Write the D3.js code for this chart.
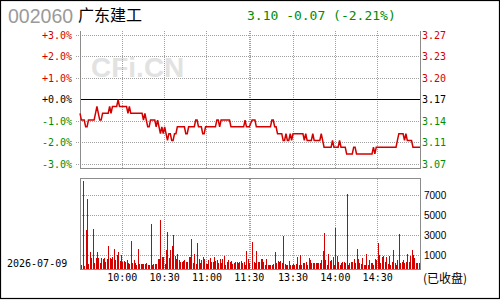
<!DOCTYPE html>
<html>
<head>
<meta charset="utf-8">
<script src="https://cdn.jsdelivr.net/npm/d3@7"></script>
<style>
  body { margin: 0; background: #fff; }
  svg { display: block; }
</style>
</head>
<body>
<div id="chart"></div>
<script>
// header info
const stockCode = '002060';
const stockName = '广东建工';
const quoteText = '3.10 -0.07 (-2.21%)';
const tradeDate = '2026-07-09';
const statusText = '(已收盘)';
const prevClose = 3.17;

// axes
const pctTicks = [3, 2, 1, 0, -1, -2, -3];
const pctLabels = ['+3.0%', '+2.0%', '+1.0%', '+0.0%', '-1.0%', '-2.0%', '-3.0%'];
const priceLabels = ['3.27', '3.23', '3.20', '3.17', '3.14', '3.11', '3.07'];

// time slots: 0 = 9:30, 120 = 11:30, 121 = 13:00, 241 = 15:00
const gridSlots = [30, 60, 90, 120, 121, 151, 181, 211];
const timeSlots = [30, 60, 90, 120, 151, 181, 211];
const timeLabels = ['10:00', '10:30', '11:00', '11:30', '13:30', '14:00', '14:30'];

const volGrid = [1350, 3300, 5250, 7150];
const volLabels = ['1000', '3000', '5000', '7000'];

// one price per minute, 9:30 .. 11:30 then 13:01 .. 15:00
const prices = [
  3.15,3.14,3.14,3.14,3.13,3.13,3.14,3.14,3.14,3.14,
  3.14,3.15,3.16,3.15,3.14,3.14,3.15,3.15,3.15,3.15,
  3.15,3.16,3.15,3.16,3.16,3.16,3.16,3.17,3.16,3.16,
  3.16,3.16,3.16,3.16,3.15,3.16,3.15,3.15,3.15,3.15,
  3.15,3.15,3.15,3.15,3.15,3.14,3.15,3.14,3.13,3.13,
  3.14,3.14,3.14,3.14,3.13,3.14,3.13,3.12,3.13,3.12,
  3.13,3.12,3.11,3.12,3.12,3.11,3.11,3.12,3.12,3.13,
  3.13,3.13,3.13,3.13,3.13,3.12,3.12,3.13,3.13,3.13,
  3.13,3.13,3.14,3.14,3.13,3.13,3.13,3.12,3.12,3.13,
  3.13,3.13,3.13,3.13,3.13,3.13,3.13,3.14,3.14,3.13,
  3.14,3.14,3.14,3.14,3.14,3.14,3.14,3.13,3.13,3.13,
  3.13,3.13,3.13,3.13,3.13,3.13,3.13,3.14,3.13,3.13,
  3.13,3.14,3.14,3.14,3.13,3.13,3.13,3.13,3.13,3.13,
  3.13,3.13,3.13,3.13,3.13,3.14,3.14,3.13,3.13,3.12,
  3.12,3.12,3.12,3.11,3.11,3.12,3.11,3.11,3.12,3.11,
  3.12,3.12,3.12,3.12,3.12,3.12,3.12,3.12,3.11,3.12,
  3.11,3.11,3.11,3.11,3.12,3.11,3.11,3.11,3.11,3.11,
  3.12,3.11,3.10,3.10,3.10,3.10,3.10,3.10,3.11,3.10,
  3.10,3.10,3.10,3.11,3.10,3.10,3.10,3.10,3.09,3.09,
  3.09,3.09,3.09,3.10,3.10,3.09,3.09,3.09,3.09,3.09,
  3.09,3.09,3.09,3.09,3.09,3.09,3.09,3.10,3.09,3.10,
  3.10,3.10,3.10,3.10,3.10,3.10,3.10,3.10,3.10,3.10,
  3.10,3.10,3.10,3.10,3.11,3.12,3.12,3.12,3.12,3.11,
  3.12,3.11,3.11,3.11,3.11,3.10,3.10,3.10,3.10,3.10,
  3.10
];

const volumes = [
  1000,450,8500,300,3810,6820,500,1710,1100,3910,
  650,1100,1710,1130,580,1100,1030,1100,740,1000,
  2260,1100,970,1230,1970,900,1420,1710,840,1390,
  740,840,680,900,650,520,2750,650,870,650,
  420,1970,520,520,520,520,520,650,450,480,
  4430,450,520,520,500,1000,1000,4780,1230,1230,
  520,1870,3650,1100,1870,2290,3330,1290,1030,1490,
  900,740,740,780,900,740,740,1230,1230,2940,
  650,1490,500,2520,1000,580,900,1160,970,520,
  550,900,1130,680,740,1160,810,900,610,1000,
  650,970,1320,450,710,900,740,840,520,580,
  710,710,580,710,840,580,710,450,1810,1000,
  580,2680,740,580,1810,680,740,970,1000,740,
  420,1000,420,420,420,420,520,1710,650,840,
  710,810,580,3260,520,480,420,840,390,420,
  520,420,520,1230,420,1360,420,650,580,740,
  420,1130,900,650,650,650,650,650,650,650,
  900,1810,3550,900,420,1490,840,900,1160,420,
  4000,1290,710,420,580,680,710,650,7300,420,
  580,710,710,970,580,1970,970,580,520,1130,
  420,420,1490,420,900,580,650,420,1030,900,
  2580,1390,650,1230,1320,710,1230,520,1290,420,
  740,1870,580,420,900,3420,580,710,900,650,
  740,1490,740,1290,1870,1390,1070,650,600,600,
  2360
];

const RED = '#d40000', GREEN = '#008c00', GRID = '#a0a0a0', FRAME = '#8c8c8c';
const MONO = '"DejaVu Sans Mono", monospace';
const box = { left: 80, right: 420, priceTop: 31, priceBottom: 168.5, volTop: 178.5, volBottom: 269.5 };

const svg = d3.select('#chart').append('svg')
    .attr('width', 500)
    .attr('height', 300);

const slotOf = m => (m <= 120 ? m : m + 1);
const toPct = p => (p - prevClose) / prevClose * 100;

const x = d3.scaleLinear().domain([0, 241]).range([box.left, box.right]);
const yPct = d3.scaleLinear().domain([-3.2, 3.2]).range([box.priceBottom, box.priceTop]);
const yVol = d3.scaleLinear().domain([0, 8770]).range([box.volBottom, box.volTop]);

// outer frame
svg.append('rect')
    .attr('x', 0.5).attr('y', 0.5)
    .attr('width', 499).attr('height', 298)
    .attr('fill', '#fff')
    .attr('stroke', '#000')
    .attr('stroke-width', 1.2);

// watermark
svg.append('text')
    .attr('x', 91).attr('y', 77)
    .style('font-family', '"Liberation Sans", Arial, sans-serif')
    .style('font-weight', 'bold')
    .style('font-size', '28px')
    .attr('fill', '#e2e2e2')
    .text('CFi.CN');

// header
svg.append('text')
    .attr('x', 8).attr('y', 23)
    .style('font-family', '"Liberation Sans", Arial, sans-serif')
    .style('font-size', '19.5px')
    .attr('fill', '#9a9a9a')
    .text(stockCode);

svg.append('text')
    .attr('x', 78).attr('y', 20.5)
    .style('font-family', '"Noto Sans CJK SC", sans-serif')
    .style('font-size', '16px')
    .attr('fill', '#000')
    .text(stockName);

svg.append('text')
    .attr('x', 247).attr('y', 20)
    .style('font-family', MONO)
    .style('font-size', '13px')
    .attr('fill', GREEN)
    .text(quoteText);

const g = svg.append('g').attr('shape-rendering', 'crispEdges');

// price panel grid
g.selectAll('.hgrid')
    .data(pctTicks.filter(d => d !== 0))
    .enter().append('line')
    .attr('x1', box.left - 4).attr('x2', box.right)
    .attr('y1', d => yPct(d)).attr('y2', d => yPct(d))
    .attr('stroke', GRID).attr('stroke-dasharray', '1,1');

g.selectAll('.vgrid')
    .data(gridSlots)
    .enter().append('line')
    .attr('x1', d => x(d)).attr('x2', d => x(d))
    .attr('y1', box.priceTop).attr('y2', box.priceBottom)
    .attr('stroke', GRID).attr('stroke-dasharray', '1,1');

// volume panel grid
g.selectAll('.vhgrid')
    .data(volGrid)
    .enter().append('line')
    .attr('x1', box.left).attr('x2', box.right)
    .attr('y1', d => yVol(d)).attr('y2', d => yVol(d))
    .attr('stroke', GRID).attr('stroke-dasharray', '1,1');

g.selectAll('.vvgrid')
    .data(gridSlots)
    .enter().append('line')
    .attr('x1', d => x(d)).attr('x2', d => x(d))
    .attr('y1', box.volTop).attr('y2', box.volBottom)
    .attr('stroke', GRID).attr('stroke-dasharray', '1,1');

// previous close line
g.append('line')
    .attr('x1', box.left).attr('x2', box.right)
    .attr('y1', yPct(0)).attr('y2', yPct(0))
    .attr('stroke', '#000').attr('stroke-width', 1.3);

// volume bars
g.selectAll('.bar')
    .data(volumes)
    .enter().append('rect')
    .attr('x', (d, i) => x(slotOf(i)))
    .attr('y', d => yVol(d))
    .attr('width', 1)
    .attr('height', d => yVol(0) - yVol(d))
    .attr('fill', RED);

// panel frames
g.append('path')
    .attr('d', `M${box.left},${box.priceTop}V${box.priceBottom}H${box.right}V${box.priceTop}`)
    .attr('fill', 'none').attr('stroke', FRAME);

g.append('rect')
    .attr('x', box.left).attr('y', box.volTop)
    .attr('width', box.right - box.left)
    .attr('height', box.volBottom - box.volTop)
    .attr('fill', 'none').attr('stroke', FRAME);

// price line
const line = d3.line()
    .x((d, i) => x(slotOf(i)))
    .y(d => yPct(toPct(d)));

svg.append('path')
    .datum(prices)
    .attr('d', line)
    .attr('fill', 'none')
    .attr('stroke', RED)
    .attr('stroke-width', 1.5);

const pctColor = d => (d > 0 ? RED : d < 0 ? GREEN : '#000');

// left percent labels
svg.selectAll('.pct')
    .data(pctTicks)
    .enter().append('text')
    .attr('x', 72).attr('y', d => yPct(d))
    .attr('dy', '0.36em')
    .attr('text-anchor', 'end')
    .style('font-family', MONO).style('font-size', '10px')
    .attr('fill', pctColor)
    .text((d, i) => pctLabels[i]);

// right price labels
svg.selectAll('.px')
    .data(pctTicks)
    .enter().append('text')
    .attr('x', 422).attr('y', d => yPct(d))
    .attr('dy', '0.36em')
    .style('font-family', MONO).style('font-size', '10px')
    .attr('fill', pctColor)
    .text((d, i) => priceLabels[i]);

// volume labels
svg.selectAll('.vl')
    .data(volGrid)
    .enter().append('text')
    .attr('x', 424).attr('y', d => yVol(d))
    .attr('dy', '0.36em')
    .style('font-family', '"Liberation Sans", Arial, sans-serif').style('font-size', '10px')
    .attr('fill', '#000')
    .text((d, i) => volLabels[i]);

// time labels
svg.selectAll('.tl')
    .data(timeSlots)
    .enter().append('text')
    .attr('x', d => x(d)).attr('y', 277.5)
    .attr('dy', '0.36em')
    .attr('text-anchor', 'middle')
    .style('font-family', MONO).style('font-size', '10px')
    .attr('fill', '#000')
    .text((d, i) => timeLabels[i]);

svg.append('text')
    .attr('x', 7).attr('y', 263)
    .attr('dy', '0.36em')
    .style('font-family', MONO).style('font-size', '10px')
    .attr('fill', '#000')
    .text(tradeDate);

svg.append('text')
    .attr('x', 423).attr('y', 279)
    .attr('dy', '0.36em')
    .style('font-family', '"Noto Sans CJK SC", sans-serif').style('font-size', '12px')
    .attr('fill', '#000')
    .text(statusText);
</script>
</body>
</html>
